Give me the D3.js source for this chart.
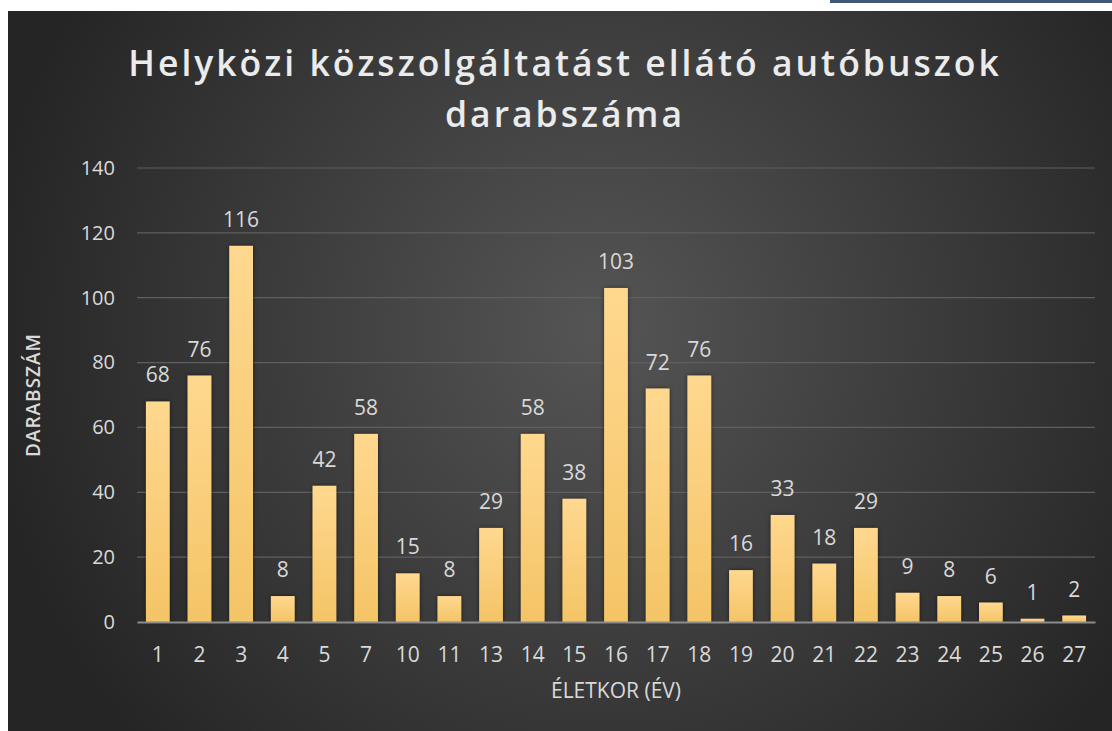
<!DOCTYPE html>
<html>
<head>
<meta charset="utf-8">
<script src="https://cdn.jsdelivr.net/npm/d3@7"></script>
<style>
  body { margin: 0; background: #fff; }
  text { font-family: "Open Sans", "Noto Sans", sans-serif; }
</style>
</head>
<body>
<div id="chart"></div>
<script>
// ages (years) and bus counts
const ages = ["1", "2", "3", "4", "5", "7", "10", "11", "13", "14", "15", "16", "17", "18",
  "19", "20", "21", "22", "23", "24", "25", "26", "27"];
const counts = [68, 76, 116, 8, 42, 58, 15, 8, 29, 58, 38, 103, 72, 76,
  16, 33, 18, 29, 9, 8, 6, 1, 2];
const yTicks = [0, 20, 40, 60, 80, 100, 120, 140];

const titleLines = ["Helyközi közszolgáltatást ellátó autóbuszok", "darabszáma"];

const svgWidth = 1112;
const svgHeight = 731;

const margin = { top: 168, right: 17, bottom: 109, left: 137 };
const width = svgWidth - margin.left - margin.right;
const height = svgHeight - margin.top - margin.bottom;

const svg = d3.select("#chart")
  .append("svg")
  .attr("width", svgWidth)
  .attr("height", svgHeight);

const defs = svg.append("defs");

const bg = defs.append("radialGradient")
  .attr("id", "bg")
  .attr("gradientUnits", "userSpaceOnUse")
  .attr("cx", 600).attr("cy", 330).attr("r", 620);
bg.append("stop").attr("offset", "0%").attr("stop-color", "#555555");
bg.append("stop").attr("offset", "100%").attr("stop-color", "#252525");

const barGrad = defs.append("linearGradient")
  .attr("id", "bar")
  .attr("x1", 0).attr("y1", 0).attr("x2", 0).attr("y2", 1);
barGrad.append("stop").attr("offset", "0%").attr("stop-color", "#ffd88f");
barGrad.append("stop").attr("offset", "100%").attr("stop-color", "#f4c466");

const shadow = defs.append("filter").attr("id", "shadow")
  .attr("x", "-30%").attr("y", "-10%").attr("width", "160%").attr("height", "120%");
shadow.append("feDropShadow")
  .attr("dx", 0).attr("dy", 0).attr("stdDeviation", 2)
  .attr("flood-color", "#000").attr("flood-opacity", 0.55);

// strip at the top of the screenshot
svg.append("rect")
  .attr("x", 830).attr("y", 0).attr("width", 282).attr("height", 3)
  .attr("fill", "#3f5876");

// chart area
svg.append("rect")
  .attr("x", 8).attr("y", 11)
  .attr("width", svgWidth - 8).attr("height", svgHeight - 11)
  .attr("fill", "url(#bg)");

// title
svg.append("g").selectAll("text")
  .data(titleLines)
  .enter()
  .append("text")
  .attr("x", 565)
  .attr("y", (d, i) => 76 + i * 51)
  .attr("text-anchor", "middle")
  .attr("fill", "#ebebeb")
  .attr("font-size", 35.5)
  .attr("font-weight", 600)
  .attr("letter-spacing", 3)
  .text(d => d);

const chartGroup = svg.append("g")
  .attr("transform", `translate(${margin.left}, ${margin.top})`);

const x = d3.scaleBand()
  .domain(ages)
  .range([0, width])
  .paddingInner(0.43)
  .paddingOuter(0.215);

const y = d3.scaleLinear()
  .domain([0, 140])
  .range([height, 0]);

// gridlines
chartGroup.append("g")
  .selectAll("line")
  .data(yTicks.slice(1))
  .enter()
  .append("line")
  .attr("x1", 0).attr("x2", width)
  .attr("y1", d => y(d)).attr("y2", d => y(d))
  .attr("stroke", "#5f5f5f")
  .attr("stroke-width", 1.2);

// y axis labels
const yAxis = d3.axisLeft(y).tickValues(yTicks).tickSize(0).tickPadding(22);
chartGroup.append("g")
  .call(yAxis)
  .attr("font-size", 20)
  .attr("font-family", null)
  .call(g => g.select(".domain").remove())
  .selectAll("text")
  .attr("fill", "#d9d9d9");

// bars
chartGroup.append("g")
  .selectAll("rect")
  .data(counts)
  .enter()
  .append("rect")
  .attr("x", (d, i) => x(ages[i]))
  .attr("y", d => y(d))
  .attr("width", x.bandwidth())
  .attr("height", d => height - y(d))
  .attr("fill", "url(#bar)")
  .attr("filter", "url(#shadow)");

// value labels
chartGroup.append("g")
  .selectAll("text")
  .data(counts)
  .enter()
  .append("text")
  .attr("x", (d, i) => x(ages[i]) + x.bandwidth() / 2)
  .attr("y", d => y(d) - 19)
  .attr("text-anchor", "middle")
  .attr("fill", "#d9d9d9")
  .attr("font-size", 21)
  .text(d => d);

// x axis
const xAxis = d3.axisBottom(x).tickSize(0).tickPadding(25);
chartGroup.append("g")
  .attr("transform", `translate(0, ${height})`)
  .call(xAxis)
  .attr("font-size", 21)
  .attr("font-family", null)
  .call(g => g.select(".domain")
    .attr("stroke", "#8c8c8c")
    .attr("stroke-width", 2))
  .selectAll("text")
  .attr("fill", "#d9d9d9");

// axis titles
svg.append("text")
  .attr("transform", `translate(40, ${margin.top + height / 2}) rotate(-90)`)
  .attr("text-anchor", "middle")
  .attr("fill", "#d9d9d9")
  .attr("font-size", 19)
  .attr("font-weight", 600)
  .attr("letter-spacing", 1)
  .text("DARABSZÁM");

svg.append("text")
  .attr("x", margin.left + width / 2)
  .attr("y", 698)
  .attr("text-anchor", "middle")
  .attr("fill", "#d9d9d9")
  .attr("font-size", 21)
  .text("ÉLETKOR (ÉV)");
</script>
</body>
</html>
